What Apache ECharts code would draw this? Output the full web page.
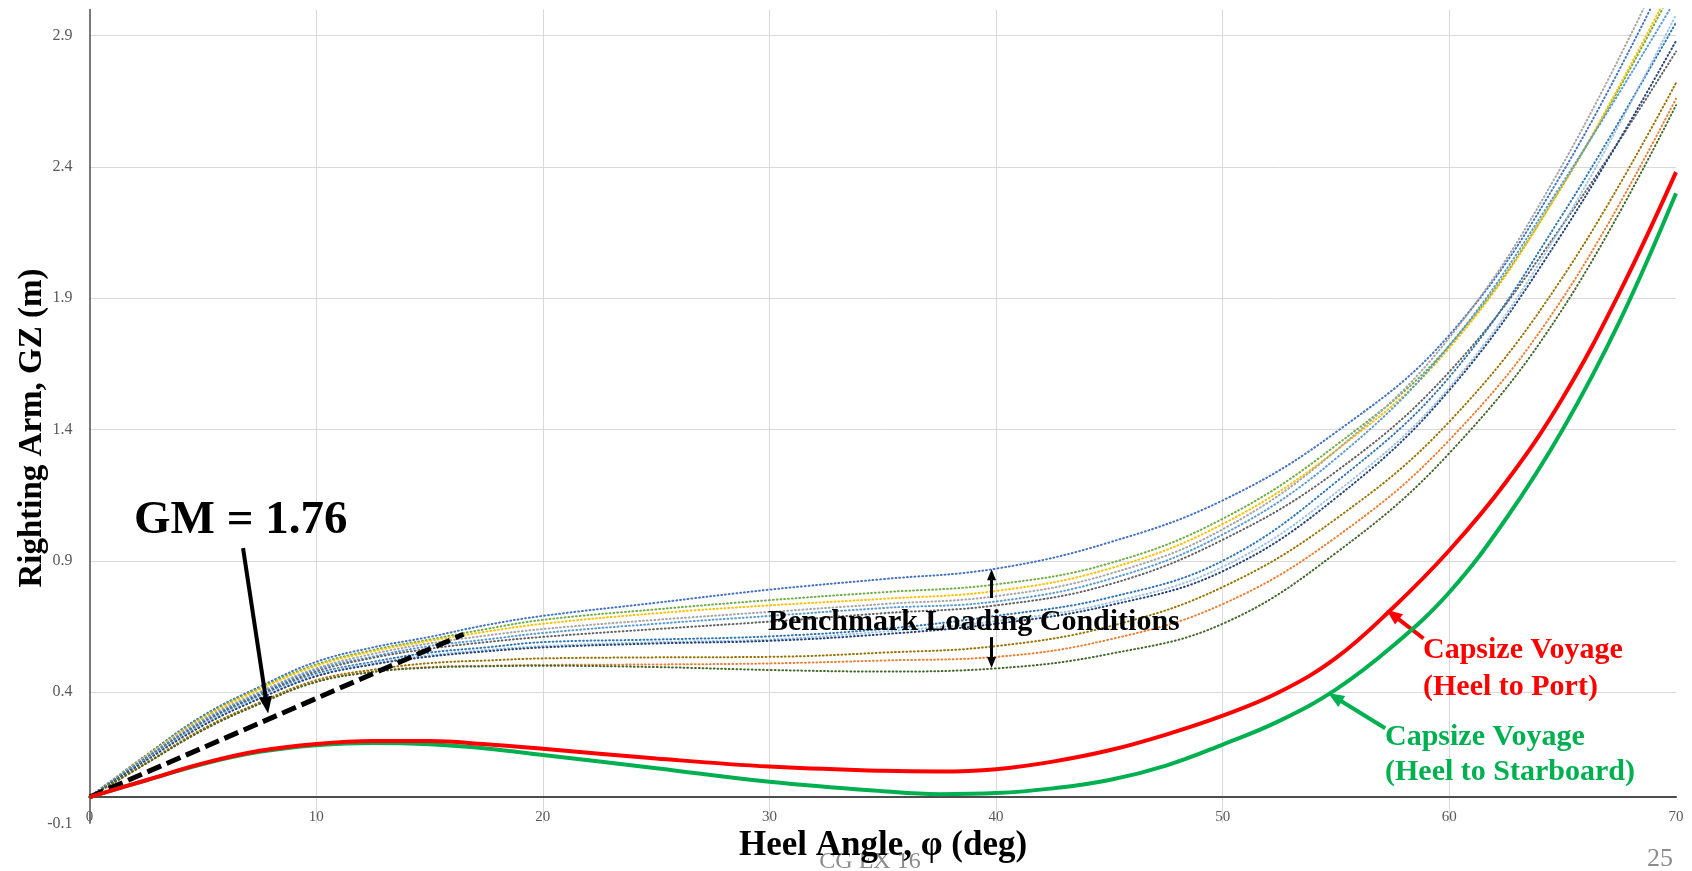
<!DOCTYPE html>
<html>
<head>
<meta charset="utf-8">
<script src="https://cdn.jsdelivr.net/npm/echarts@6/dist/echarts.min.js"></script>
<style>html,body{margin:0;padding:0;background:#fff}#chart{width:1692px;height:871px}</style>
</head>
<body>
<div id="chart"></div>
<script>
// ---------- DATA ----------
const xTickValues = [0, 10, 20, 30, 40, 50, 60, 70];
const yTickValues = [-0.1, 0.4, 0.9, 1.4, 1.9, 2.4, 2.9];
const yMax = 3.0;

// benchmark loading conditions (dotted curves)
const benchAngles = [0, 2.5, 5, 7.5, 10, 12.5, 15, 17.5, 20, 25, 30, 35, 40, 45, 50, 55, 60, 65, 70];
const benchA = [0, .160, .310, .420, .515, .570, .610, .655, .690, .740, .790, .830, .870, .970, 1.130, 1.390, 1.760, 2.380, 3.200];
const benchB = [0, .157, .305, .415, .505, .560, .600, .640, .675, .715, .750, .780, .810, .890, 1.060, 1.340, 1.720, 2.330, 3.100];
const benchC = [0, .155, .300, .410, .500, .555, .595, .630, .660, .700, .730, .755, .785, .870, 1.040, 1.320, 1.710, 2.330, 3.120];
const benchD = [0, .153, .295, .400, .490, .545, .585, .615, .640, .675, .705, .735, .765, .850, 1.020, 1.320, 1.750, 2.410, 3.260];
const benchE = [0, .150, .290, .395, .485, .535, .575, .600, .625, .660, .690, .720, .745, .830, 1.000, 1.290, 1.720, 2.340, 3.040];
const benchF = [0, .148, .285, .390, .478, .530, .565, .590, .610, .640, .668, .700, .730, .810, .980, 1.240, 1.620, 2.180, 2.840];
const benchG = [0, .145, .280, .385, .470, .515, .550, .570, .590, .600, .612, .640, .690, .760, .900, 1.200, 1.600, 2.220, 2.950];
const benchH = [0, .143, .277, .380, .465, .510, .540, .560, .575, .590, .600, .630, .670, .740, .877, 1.160, 1.560, 2.180, 2.980];
const benchI = [0, .140, .272, .375, .460, .505, .535, .555, .570, .585, .595, .620, .660, .730, .860, 1.140, 1.550, 2.150, 2.880];
const benchJ = [0, .130, .260, .360, .445, .485, .510, .520, .528, .532, .534, .550, .575, .650, .800, 1.060, 1.430, 1.980, 2.720];
const benchK = [0, .128, .255, .355, .440, .478, .495, .500, .503, .505, .509, .520, .534, .600, .735, .990, 1.360, 1.900, 2.660];
const benchL = [0, .128, .255, .355, .438, .476, .493, .498, .500, .495, .484, .478, .490, .545, .660, .930, 1.310, 1.860, 2.635];

// capsize voyage curves
const capsizeAngles = [0, 2.5, 5, 7.5, 10, 12.5, 15, 17.5, 20, 25, 30, 35, 37.5, 40, 42.5, 45, 47.5, 50, 52.5, 55, 57.5, 60, 62.5, 65, 67.5, 70];
const capsizePort = [0, .064, .128, .176, .202, .213, .213, .201, .184, .147, .116, .100, .097, .106, .135, .178, .238, .310, .400, .530, .720, .940, 1.200, 1.520, 1.920, 2.380];
const capsizeStarboard = [0, .064, .126, .172, .197, .206, .201, .185, .160, .110, .058, .022, .011, .015, .033, .065, .120, .200, .290, .410, .575, .780, 1.060, 1.400, 1.810, 2.300];

// GM tangent line
const tangentAngles = [0, 16.5];
const tangentGZ = [0, 0.62];

// annotation arrows in data coordinates [from, to(head centre)]
const gmArrow = [[6.77, 0.948], [7.82, 0.350]];
const benchUpArrow = [[39.8, 0.758], [39.8, 0.847]];
const benchDownArrow = [[39.8, 0.609], [39.8, 0.512]];
const portArrow = [[58.86, 0.604], [57.5, 0.695]];
const starboardArrow = [[57.17, 0.262], [54.95, 0.380]];

// texts
const yTitle = 'Righting Arm, GZ (m)';
const xTitle = 'Heel Angle, φ (deg)';
const gmText = 'GM = 1.76';
const benchText = 'Benchmark Loading Conditions';
const portText = ['Capsize Voyage', '(Heel to Port)'];
const starboardText = ['Capsize Voyage', '(Heel to Starboard)'];
const footerText = 'CG EX 16';
const pageText = '25';

// ---------- CHART ----------
const SERIF = '"Liberation Serif", "Times New Roman", serif';
const zip = (xs, ys) => xs.map((x, i) => [x, ys[i]]);

const benchDefs = [
  ['LC A', '#4472C4', benchA],
  ['LC B', '#70AD47', benchB],
  ['LC C', '#FFC000', benchC],
  ['LC D', '#A5A5A5', benchD],
  ['LC E', '#5B9BD5', benchE],
  ['LC F', '#636363', benchF],
  ['LC G', '#2E75B6', benchG],
  ['LC H', '#9DC3E6', benchH],
  ['LC I', '#264478', benchI],
  ['LC J', '#997300', benchJ],
  ['LC K', '#ED7D31', benchK],
  ['LC L', '#43682B', benchL]
];

const series = benchDefs.map(([name, color, vals]) => ({
  name, type: 'line', smooth: 0.4, symbol: 'none', silent: true, z: 2,
  data: zip(benchAngles, vals),
  lineStyle: { color, width: 2, type: [0.8, 3], cap: 'round' }
}));

function arrowItem(a, color, width, size) {
  return [
    { coord: a[0], symbol: 'none', lineStyle: { color, width, type: 'solid' } },
    { coord: a[1], symbol: 'triangle', symbolSize: size, itemStyle: { color }, lineStyle: { color, width, type: 'solid' } }
  ];
}

series.push({
  name: 'GM tangent', type: 'line', symbol: 'none', silent: true, z: 4,
  data: zip(tangentAngles, tangentGZ),
  lineStyle: { color: '#000', width: 5, type: [15, 6] },
  markLine: {
    silent: true, animation: false,
    label: { show: false },
    emphasis: { disabled: true },
    data: [
      arrowItem(gmArrow, '#000', 4, [13, 17]),
      arrowItem(benchUpArrow, '#000', 3, [9, 11]),
      arrowItem(benchDownArrow, '#000', 3, [9, 11]),
      arrowItem(portArrow, '#FF0000', 4, [13, 16]),
      arrowItem(starboardArrow, '#00B050', 4, [13, 16])
    ]
  }
});

series.push({
  name: 'Capsize Voyage (Heel to Starboard)', type: 'line', smooth: 0.4, symbol: 'none', silent: true, z: 5,
  data: zip(capsizeAngles, capsizeStarboard),
  lineStyle: { color: '#00B050', width: 4 }
});
series.push({
  name: 'Capsize Voyage (Heel to Port)', type: 'line', smooth: 0.4, symbol: 'none', silent: true, z: 6,
  data: zip(capsizeAngles, capsizePort),
  lineStyle: { color: '#FF0000', width: 4 }
});

function txt(text, x, y, size, color, align, z, rotation) {
  return {
    type: 'text', z: z || 10, silent: true, x, y, rotation: rotation || 0,
    style: {
      text, x: 0, y: 0, fill: color,
      font: 'bold ' + size + 'px ' + SERIF,
      align: align || 'left', verticalAlign: 'middle'
    }
  };
}

const option = {
  backgroundColor: '#fff',
  animation: false,
  grid: { left: 89.6, right: 16, top: 9.4, bottom: 47.7, outerBoundsMode: 'none', containLabel: false },
  xAxis: {
    type: 'value',
    min: xTickValues[0], max: xTickValues[xTickValues.length - 1],
    interval: xTickValues[1] - xTickValues[0],
    axisLine: { onZero: true, lineStyle: { color: '#4d4d4d', width: 2 } },
    axisTick: { show: false },
    axisLabel: { margin: -14, fontSize: 15, color: '#595959', fontFamily: SERIF },
    splitLine: { show: true, showMinLine: false, showMaxLine: false, lineStyle: { color: '#d9d9d9', width: 1 } }
  },
  yAxis: {
    type: 'value',
    min: yTickValues[0], max: yMax,
    interval: yTickValues[1] - yTickValues[0],
    axisLine: { show: true, lineStyle: { color: '#4d4d4d', width: 1.5 } },
    axisTick: { show: false },
    axisLabel: { margin: 17, fontSize: 16, color: '#595959', fontFamily: SERIF, showMaxLabel: false,
      formatter: v => (Math.round(v * 10) / 10).toFixed(1) },
    splitLine: { show: true, showMinLine: false, showMaxLine: false, lineStyle: { color: '#d9d9d9', width: 1 } }
  },
  graphic: [
    { type: 'text', z: -5, silent: true, style: { text: footerText, x: 870, y: 862, fill: '#8c8c8c', font: '24px ' + SERIF, align: 'center', verticalAlign: 'middle' } },
    { type: 'text', z: -5, silent: true, style: { text: pageText, x: 1673, y: 859, fill: '#8c8c8c', font: '26px ' + SERIF, align: 'right', verticalAlign: 'middle' } },
    txt(yTitle, 32, 428, 33, '#000', 'center', 10, Math.PI / 2),
    txt(xTitle, 883, 846, 35, '#000', 'center', 10),
    txt(gmText, 134, 521, 47, '#000'),
    txt(benchText, 768, 622, 30, '#000'),
    txt(portText[0], 1423, 650, 30, '#FF0000'),
    txt(portText[1], 1423, 687, 30, '#FF0000'),
    txt(starboardText[0], 1385, 737, 30, '#00B050'),
    txt(starboardText[1], 1385, 772, 30, '#00B050')
  ],
  series
};

const chart = echarts.init(document.getElementById('chart'), null, { renderer: 'canvas' });
chart.setOption(option);
</script>
</body>
</html>
